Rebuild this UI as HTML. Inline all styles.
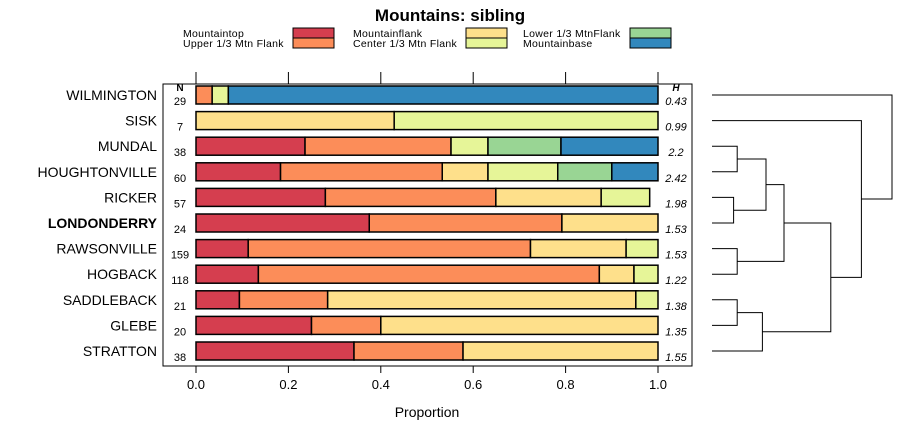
<!DOCTYPE html>
<html><head><meta charset="utf-8"><style>
body{margin:0;background:#fff}
svg text{font-family:"Liberation Sans",sans-serif}
</style></head><body>
<svg id="c" width="900" height="440" xmlns="http://www.w3.org/2000/svg"></svg>
<script>
const categories=["WILMINGTON","SISK","MUNDAL","HOUGHTONVILLE","RICKER","LONDONDERRY","RAWSONVILLE","HOGBACK","SADDLEBACK","GLEBE","STRATTON"];
const nValues=[29,7,38,60,57,24,159,118,21,20,38];
const hValues=["0.43","0.99","2.2","2.42","1.98","1.53","1.53","1.22","1.38","1.35","1.55"];
const seriesNames=["Mountaintop","Upper 1/3 Mtn Flank","Mountainflank","Center 1/3 Mtn Flank","Lower 1/3 MtnFlank","Mountainbase"];
const mountaintop=[0,0,.236,.183,.28,.375,.113,.135,.094,.25,.342];
const upperFlank=[.035,0,.316,.35,.369,.417,.611,.738,.191,.15,.236];
const mountainflank=[0,.429,0,.099,.228,.208,.207,.075,.667,.6,.422];
const centerFlank=[.035,.571,.08,.151,.105,0,.069,.052,.048,0,0];
const lowerFlank=[0,0,.158,.117,0,0,0,0,0,0,0];
const mountainbase=[.93,0,.21,.1,0,0,0,0,0,0,0];
const xTicks=[0,0.2,0.4,0.6,0.8,1.0];
const xTickLabels=["0.0","0.2","0.4","0.6","0.8","1.0"];
// dendrogram merges: [leftNodeIndex,rightNodeIndex,height]; leaves 0..10, new nodes 11..
const merges=[[2,3,0.07],[4,5,0.06],[11,12,0.15],[6,7,0.07],[13,14,0.2],[8,9,0.07],[16,10,0.14],[15,17,0.33],[1,18,0.415],[0,19,0.5]];
const colors=["#d53e4f","#fc8d59","#fee08b","#e6f598","#99d594","#3288bd"];
const series=[mountaintop,upperFlank,mountainflank,centerFlank,lowerFlank,mountainbase];
const svg=document.getElementById('c');const NS="http://www.w3.org/2000/svg";
function mk(t,a,p){const e=document.createElementNS(NS,t);for(const k in a)e.setAttribute(k,a[k]);(p||svg).appendChild(e);return e;}
const x=v=>196+v*462;
const y=i=>95+i*25.6;
const dx=h=>712+h*360;
let t=mk('text',{x:450,y:21,'text-anchor':'middle','font-size':17,'font-weight':'bold'});t.textContent="Mountains: sibling";

const lx=[183,353,523],bx=[293,466,630];
seriesNames.forEach((n,k)=>{const c=Math.floor(k/2),r=k%2;
 const g=mk('g',{});
 const tt=mk('text',{x:lx[c],y:37+r*10,'font-size':10.5,'letter-spacing':0.3},g);tt.textContent=n;
 mk('rect',{x:bx[c],y:28+r*10,width:41,height:10,fill:colors[k],stroke:'#000','stroke-width':1},g);});
const p=mk('rect',{x:163,y:84,width:529,height:282,fill:'none',stroke:'#000','stroke-width':1});

xTicks.forEach((v,i)=>{mk('line',{x1:x(v),x2:x(v),y1:72,y2:84,stroke:'#000'});mk('line',{x1:x(v),x2:x(v),y1:366,y2:373,stroke:'#000'});
 const tl=mk('text',{x:x(v),y:389,'text-anchor':'middle','font-size':13});tl.textContent=xTickLabels[i];
 });
t=mk('text',{x:427,y:417,'text-anchor':'middle','font-size':14});t.textContent="Proportion";

t=mk('text',{x:180,y:91,'text-anchor':'middle','font-size':10,'font-weight':'bold'});t.textContent="N";

t=mk('text',{x:676,y:91,'text-anchor':'middle','font-size':10,'font-weight':'bold','font-style':'italic'});t.textContent="H";

categories.forEach((c,i)=>{const cy=y(i);
 const lb=mk('text',{x:157,y:cy+5,'text-anchor':'end','font-size':14,'font-weight':c==="LONDONDERRY"?'bold':'normal'});lb.textContent=c;
 
 const nt=mk('text',{x:180,y:cy+10,'text-anchor':'middle','font-size':11});nt.textContent=nValues[i];
 
 const ht=mk('text',{x:676,y:cy+10,'text-anchor':'middle','font-size':11,'font-style':'italic'});ht.textContent=hValues[i];
 
 let acc=0;series.forEach((s,k)=>{const v=s[i];if(v>0){const r=mk('rect',{x:x(acc),y:cy-9,width:x(acc+v)-x(acc),height:18,fill:colors[k],stroke:'#000','stroke-width':1.5});
  }acc+=v;});});
const nodes=categories.map((c,i)=>({y:y(i),h:0}));
merges.forEach(m=>{const a=nodes[m[0]],b=nodes[m[1]],hx=dx(m[2]);
 const pl=mk('polyline',{points:`${dx(a.h)},${a.y} ${hx},${a.y} ${hx},${b.y} ${dx(b.h)},${b.y}`,fill:'none',stroke:'#000','stroke-width':1});
 
 nodes.push({y:(a.y+b.y)/2,h:m[2]});});
</script>
</body></html>
